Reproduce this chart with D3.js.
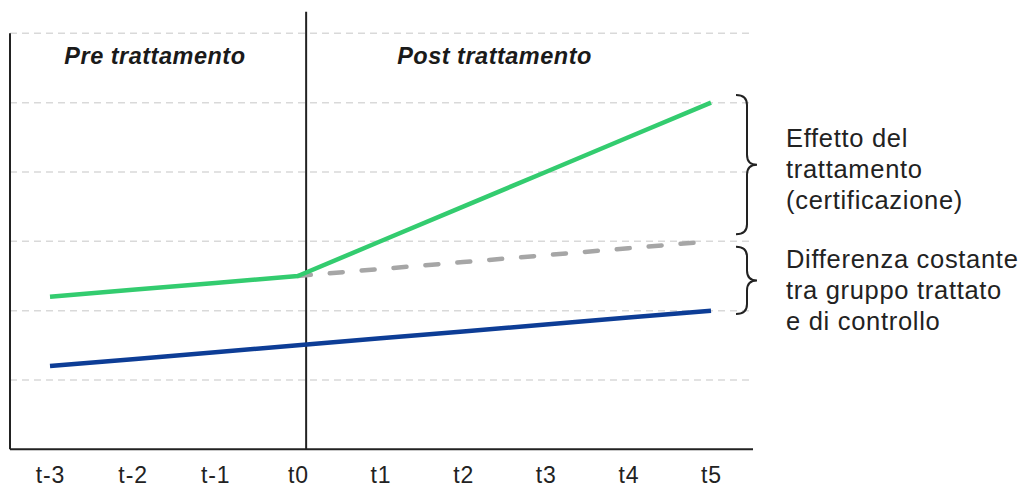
<!DOCTYPE html>
<html><head><meta charset="utf-8">
<script src="https://cdn.jsdelivr.net/npm/d3@7"></script>
<style>body{margin:0;background:#fff}svg{display:block}text{font-family:"Liberation Sans",Arial,sans-serif}</style>
</head><body><svg id="c" width="1023" height="488"></svg>
<script>
const periods = ["t-3","t-2","t-1","t0","t1","t2","t3","t4","t5"];
const gridValues = [1,2,3,4,5,6];
const treated = [2.2,2.3,2.4,2.5,3.0,3.5,4.0,4.5,5.0];
const control = [1.2,1.3,1.4,1.5,1.6,1.7,1.8,1.9,2.0];
const counterfactual = [null,null,null,2.5,2.6,2.7,2.8,2.9,3.0];
const treatmentX = 3.1;
const phaseLabels = [{text:"Pre trattamento", x:1.27},{text:"Post trattamento", x:5.38}];
const braces = [{from:3.1,to:5.11,lines:["Effetto del","trattamento","(certificazione)"],ty:4.365},
                {from:1.95,to:2.92,lines:["Differenza costante","tra gruppo trattato","e di controllo"],ty:2.61}];

const svg = d3.select("#c");
const x = d3.scaleLinear().domain([0, periods.length-1]).range([50, 711]);
const y = d3.scaleLinear().domain([0, 6]).range([449.3, 33.3]);
const xLeft = 10, xRight = 753;

// gridlines
svg.append("g").selectAll("line").data(gridValues).join("line")
  .attr("x1", xLeft).attr("x2", xRight).attr("y1", d=>y(d)).attr("y2", d=>y(d))
  .attr("stroke", "#d9d9d9").attr("stroke-width", 1.5).attr("stroke-dasharray", "7,5");

// axes
svg.append("line").attr("x1", xLeft).attr("x2", xLeft).attr("y1", y(6)).attr("y2", y(0))
  .attr("stroke", "#222").attr("stroke-width", 2);
const xAxis = d3.axisBottom(x).tickValues(d3.range(periods.length)).tickFormat(i=>periods[i]).tickSize(0).tickPadding(17);
const gx = svg.append("g").attr("transform", `translate(0,${y(0)})`).call(xAxis);
gx.select(".domain").remove();
gx.selectAll("text").attr("font-size", 23).attr("letter-spacing", 0.9).attr("fill", "#222").attr("font-family", '"Liberation Sans",Arial,sans-serif');
svg.append("line").attr("x1", xLeft).attr("x2", xRight).attr("y1", y(0)).attr("y2", y(0))
  .attr("stroke", "#222").attr("stroke-width", 2);

// treatment line
svg.append("line").attr("x1", x(treatmentX)).attr("x2", x(treatmentX)).attr("y1", y(6.31)).attr("y2", y(0))
  .attr("stroke", "#222").attr("stroke-width", 2);

// phase labels
svg.append("g").selectAll("text").data(phaseLabels).join("text")
  .attr("x", d=>x(d.x)).attr("y", 64).attr("text-anchor", "middle")
  .attr("font-size", 23.5).attr("letter-spacing", 0.5).attr("font-weight", "bold").attr("font-style", "italic").attr("fill", "#1a1a1a")
  .text(d=>d.text);

const line = d3.line().defined(d=>d!=null).x((d,i)=>x(i)).y(d=>y(d));
svg.append("path").datum(counterfactual).attr("d", line).attr("fill","none")
  .attr("stroke", "#a6a6a6").attr("stroke-width", 4.5).attr("stroke-dasharray", "13,19").attr("stroke-linecap","round");
svg.append("path").datum(control).attr("d", line).attr("fill","none")
  .attr("stroke", "#0d3d96").attr("stroke-width", 4.5);
svg.append("path").datum(treated).attr("d", line).attr("fill","none")
  .attr("stroke", "#33cc6f").attr("stroke-width", 4.5).attr("stroke-linejoin","round");

// braces
function bracePath(y0, y1){
  const x0 = 736, x1 = 747, x2 = 757, r = 10, ym = (y0+y1)/2;
  return `M${x0},${y0} Q${x1},${y0} ${x1},${y0+r} L${x1},${ym-r} Q${x1},${ym} ${x2},${ym} Q${x1},${ym} ${x1},${ym+r} L${x1},${y1-r} Q${x1},${y1} ${x0},${y1}`;
}
const bg = svg.append("g");
braces.forEach(b=>{
  bg.append("path").attr("d", bracePath(y(b.to), y(b.from))).attr("fill","none")
    .attr("stroke","#222").attr("stroke-width",2);
  const t = bg.append("text").attr("x", 786).attr("y", y(b.ty)).attr("font-size", 25.5).attr("letter-spacing", 0.7).attr("fill","#222");
  b.lines.forEach((l,i)=>t.append("tspan").attr("x",786).attr("dy", i===0?0:31).text(l));
});
</script></body></html>
